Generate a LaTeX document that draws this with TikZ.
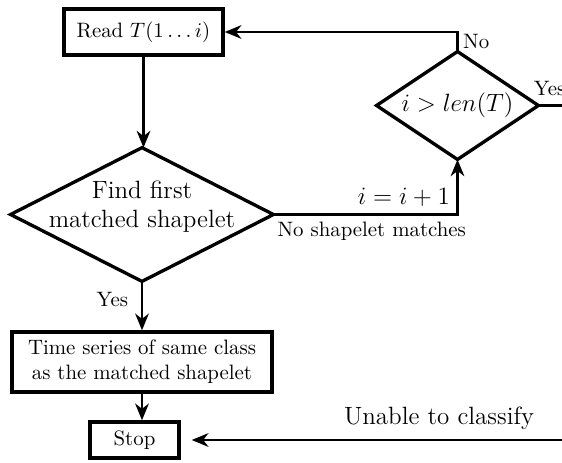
\documentclass[tikz,border=0pt]{standalone}
\usetikzlibrary{arrows.meta,calc}
\begin{document}
\begin{tikzpicture}[x=0.48pt,y=-0.48pt,
  box/.style={draw, line width=1.6pt, inner sep=0pt, align=center},
  dia/.style={inner sep=0pt, align=center, font=\large},
  dshape/.style={line width=1.6pt, line join=miter},
  conn/.style={line width=1.4pt},
  arr/.style={conn, -{Stealth[length=8pt,width=6.5pt,inset=2.5pt]}},
  lbl/.style={inner sep=1pt}]
\clip (0,0) rectangle (562,462);
% nodes
\node[box, minimum width=76.3pt, minimum height=22pt] (read) at (143.5,32) {Read $T(1\ldots i)$};
\node[dia, minimum width=125.8pt, minimum height=63.8pt] (d1) at (142,214.5) {};
\node[font=\large, align=center, inner sep=0pt] (d1t) at (142,207) {Find first\\matched shapelet};
\draw[dshape] (d1.west) -- (d1.north) -- (d1.east) -- (d1.south) -- cycle;
\node[dia, minimum width=77.3pt, minimum height=51.4pt] (d2) at (457.5,105.5) {$i > len(T)$};
\draw[dshape] (d2.west) -- (d2.north) -- (d2.east) -- (d2.south) -- cycle;
\node[box, minimum width=124.8pt, minimum height=28.8pt] (box2) at (142,362) {Time series of same class\\as the matched shapelet};
\node[box, minimum width=42.7pt, minimum height=17.3pt] (stop) at (134.5,440) {Stop};
\coordinate (yend) at (580,105.5);
\coordinate (uend) at (580,440);
% connectors
\draw[arr] (read.south) -- (read.south |- d1.north);
\draw[arr] (d1.south) -- node[left, pos=0.38, inner sep=6pt] (yes1) {Yes} (box2.north);
\draw[arr] (box2.south) -- (box2.south |- stop.north);
\draw[arr] (d1.east) -| node[pos=0.5, anchor=south east, inner sep=3pt] (inc) {\large $i=i+1$}
  node[pos=0.25, below, xshift=3pt, inner sep=3pt] (nomatch) {No shapelet matches} (d2.south);
\draw[arr] (d2.north) |- node[pos=0.25, anchor=south west, inner sep=2pt, yshift=-6pt] (no) {No} (read.east);
\draw[conn] (d2.east) -- (yend);
\node[anchor=base west, inner sep=0pt] (yes2) at ($(d2.east)+(-5,-10)$) {Yes};
\draw[arr, shorten >=5.3pt] (uend) -- (stop.east);
\node[font=\large, inner sep=0pt] (unable) at (439,418) {Unable to classify};
\end{tikzpicture}
\end{document}
